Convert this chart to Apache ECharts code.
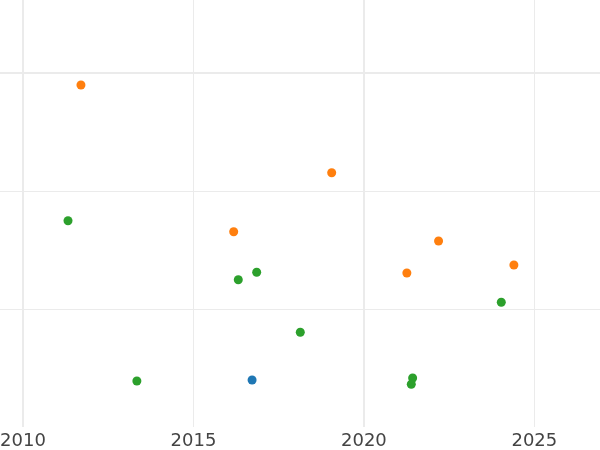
<!DOCTYPE html>
<html>
<head>
<meta charset="utf-8">
<script src="https://cdn.jsdelivr.net/npm/echarts@6/dist/echarts.min.js"></script>
<style>html,body{margin:0;padding:0;background:#fff}#c{width:600px;height:450px}</style>
</head>
<body>
<div id="c"></div>
<script>
const xRange = [2009.325, 2026.926];
const yRange = [0, 3.6186];

const blueX = [2016.72];
const blueY = [0.398];

const orangeX = [2011.70, 2019.055, 2016.18, 2022.19, 2021.26, 2024.40];
const orangeY = [2.898, 2.155, 1.655, 1.576, 1.305, 1.373];

const greenX = [2011.32, 2016.315, 2016.855, 2018.134, 2013.34, 2021.43, 2021.39, 2024.03];
const greenY = [1.748, 1.248, 1.311, 0.803, 0.390, 0.415, 0.362, 1.057];

function pairs(xs, ys) { return xs.map((x, i) => [x, ys[i]]); }

const chart = echarts.init(document.getElementById('c'), null, {renderer: 'canvas'});
const gridColor = '#ebebeb';
function xAxisDef(step, width, showLabel) {
  return {
    type: 'value', min: xRange[0], max: xRange[1],
    minInterval: step, maxInterval: step,
    axisLine: {show: false}, axisTick: {show: false},
    axisLabel: {show: showLabel, showMinLabel: false, showMaxLabel: false,
      formatter: v => String(Math.round(v)),
      color: '#444', fontFamily: 'DejaVu Sans', fontSize: 18, margin: 5},
    splitLine: {show: true, showMinLine: false, showMaxLine: false,
      lineStyle: {color: gridColor, width: width}}
  };
}
function yAxisDef(step, width) {
  return {
    type: 'value', min: yRange[0], max: yRange[1],
    minInterval: step, maxInterval: step,
    axisLine: {show: false}, axisTick: {show: false},
    axisLabel: {show: false},
    splitLine: {show: true, showMinLine: false, showMaxLine: false,
      lineStyle: {color: gridColor, width: width}}
  };
}
chart.setOption({
  animation: false,
  backgroundColor: '#fff',
  grid: {left: 0, right: 0, top: 0, bottom: 23, containLabel: false, outerBoundsMode: 'none'},
  xAxis: [xAxisDef(5, 1, true), xAxisDef(10, 2, false)],
  yAxis: [yAxisDef(1, 1), yAxisDef(3, 2)],
  series: [
    {type: 'scatter', data: pairs(blueX, blueY), symbolSize: 9, itemStyle: {color: '#1f77b4', opacity: 1}},
    {type: 'scatter', data: pairs(orangeX, orangeY), symbolSize: 9, itemStyle: {color: '#ff7f0e', opacity: 1}},
    {type: 'scatter', data: pairs(greenX, greenY), symbolSize: 9, itemStyle: {color: '#2ca02c', opacity: 1}}
  ]
});
</script>
</body>
</html>
